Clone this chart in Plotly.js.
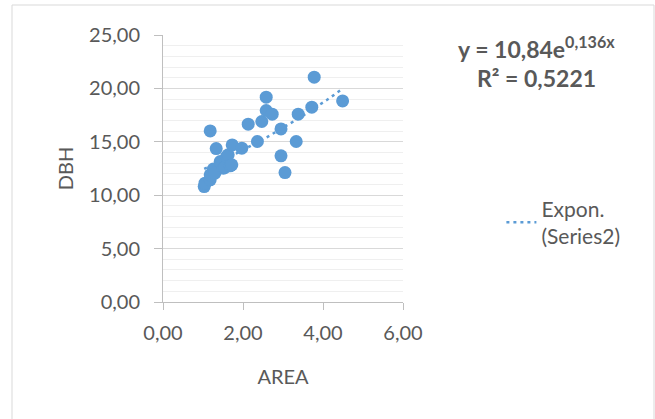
<!DOCTYPE html>
<html>
<head>
<meta charset="utf-8">
<script src="https://cdn.plot.ly/plotly-3.0.1.min.js"></script>
<style>
  html, body { margin: 0; padding: 0; background: #ffffff; }
  #chart { width: 655px; height: 419px; }
</style>
</head>
<body>
<div id="chart"></div>
<script>
// Series2: AREA (x) vs DBH (y)
const areaValues = [1.03, 1.05, 1.18, 1.18, 1.18, 1.26, 1.30, 1.33, 1.43, 1.47, 1.51, 1.55, 1.59, 1.63, 1.68, 1.72, 1.73, 1.97, 2.13, 2.36, 2.47, 2.58, 2.58, 2.73, 2.95, 2.95, 3.05, 3.33, 3.38, 3.72, 3.78, 4.49];
const dbhValues  = [10.81, 11.13, 11.44, 11.91, 16.02, 12.45, 12.07, 14.37, 13.15, 13.00, 12.53, 12.60, 13.62, 13.78, 12.75, 12.84, 14.71, 14.40, 16.65, 15.03, 16.90, 19.18, 17.93, 17.59, 16.21, 13.69, 12.12, 15.03, 17.59, 18.24, 21.05, 18.83];

// Exponential trendline as shown on the chart: y = 10,84 e^(0,136x)
const trendA = 10.84;
const trendB = 0.136;
const trendLabel = "Expon.<br>(Series2)";
const equationText = "<b>y = 10,84e<sup>0,136x</sup></b>";
const r2Text = "<b>R² = 0,5221</b>";

const xMin = Math.min(...areaValues), xMax = Math.max(...areaValues);
const trendX = [], trendY = [];
for (let i = 0; i <= 60; i++) {
  const x = xMin + (xMax - xMin) * i / 60;
  trendX.push(x);
  trendY.push(trendA * Math.exp(trendB * x));
}

const grey = '#595959';
const font = 'Lato, "Open Sans", sans-serif';

const data = [
  {
    x: trendX, y: trendY, type: 'scatter', mode: 'lines',
    name: trendLabel,
    line: { color: '#5B9BD5', width: 2.5, dash: '3px,4px' },
    showlegend: true, hoverinfo: 'skip'
  },
  {
    x: areaValues, y: dbhValues, type: 'scatter', mode: 'markers',
    name: 'Series2',
    marker: { color: '#5B9BD5', size: 13, line: { width: 0 } },
    showlegend: false
  }
];

const layout = {
  width: 655, height: 419,
  margin: { l: 163, r: 252, t: 35, b: 117 },
  paper_bgcolor: '#ffffff', plot_bgcolor: '#ffffff',
  separators: ',.',
  font: { family: font, color: grey, size: 20 },
  xaxis: {
    range: [0, 6], dtick: 2, tick0: 0, tickformat: '.2f',
    showgrid: false, zeroline: false,
    showline: true, linecolor: '#BFBFBF', linewidth: 1,
    ticks: 'outside', ticklen: 7, tickcolor: '#BFBFBF',
    ticklabelstandoff: 6,
    tickfont: { family: font, size: 20, color: grey },
    title: { text: 'AREA', font: { family: font, size: 20, color: grey }, standoff: 26 }
  },
  yaxis: {
    range: [0, 25], dtick: 5, tick0: 0, tickformat: '.2f',
    showgrid: true, gridcolor: '#D9D9D9', gridwidth: 1,
    minor: { dtick: 1, showgrid: true, gridcolor: '#EFEFEF', gridwidth: 1 },
    zeroline: false,
    showline: true, linecolor: '#BFBFBF', linewidth: 1,
    ticks: 'outside', ticklen: 8, tickcolor: '#BFBFBF',
    ticklabelstandoff: 10,
    tickfont: { family: font, size: 20, color: grey },
    title: { text: 'DBH', font: { family: font, size: 20, color: grey }, standoff: 10 }
  },
  showlegend: true,
  legend: {
    x: 1.41, y: 0.425, xanchor: 'left', yanchor: 'top',
    font: { family: font, size: 21, color: grey },
    bgcolor: 'rgba(0,0,0,0)', borderwidth: 0
  },
  annotations: [
    { xref: 'paper', yref: 'paper', x: 1.558, y: 0.952, xanchor: 'center', yanchor: 'middle',
      text: equationText, showarrow: false, font: { family: font, size: 23, color: grey } },
    { xref: 'paper', yref: 'paper', x: 1.558, y: 0.84, xanchor: 'center', yanchor: 'middle',
      text: r2Text, showarrow: false, font: { family: font, size: 23, color: grey } }
  ],
  shapes: [
    { type: 'rect', xref: 'paper', yref: 'paper',
      x0: (12 - 163) / 240, x1: (654 - 163) / 240, y0: -0.6, y1: (302 - 5) / 267,
      line: { color: '#D9D9D9', width: 1 }, fillcolor: 'rgba(0,0,0,0)', layer: 'below' }
  ]
};

Plotly.newPlot('chart', data, layout, { displayModeBar: false, staticPlot: true });
</script>
</body>
</html>
